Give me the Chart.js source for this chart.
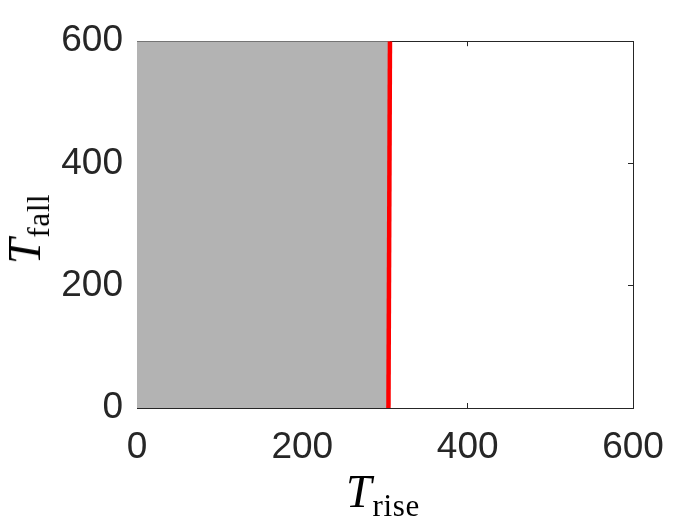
<!DOCTYPE html>
<html>
<head>
<meta charset="utf-8">
<script src="https://cdn.jsdelivr.net/npm/chart.js@4.4.1/dist/chart.umd.min.js"></script>
<style>
  body { margin: 0; background: #fff; }
  #wrap { position: relative; width: 700px; height: 525px; }
  .axis-title {
    position: absolute;
    font-family: "Liberation Serif", "DejaVu Serif", serif;
    font-size: 46px;
    line-height: 1;
    white-space: nowrap;
    color: #000;
  }
  .axis-title i { font-style: italic; }
  .axis-title span { font-size: 31px; position: relative; top: 9px; margin-left: 1px; letter-spacing: 0.6px; }
  #xTitle { left: 346px; top: 469px; }
  #yTitle { left: 25px; top: 229px; transform: translate(-50%, -50%) rotate(-90deg); }
</style>
</head>
<body>
<div id="wrap">
  <canvas id="chart" width="700" height="525"></canvas>
  <div class="axis-title" id="xTitle"><i>T</i><span>rise</span></div>
  <div class="axis-title" id="yTitle"><i>T</i><span>fall</span></div>
</div>
<script>
// boundary line (T_rise as a function of T_fall)
const boundaryRise = [304.2, 306.0];
const boundaryFall = [0, 600];
// axis limits and ticks
const axisMin = 0;
const axisMax = 600;
const xTickValues = [0, 200, 400, 600];
const yTickValues = [0, 200, 400, 600];

const AXIS_COLOR = "#262626";
const TICK_FONT = { family: "'Liberation Sans', Arial, sans-serif", size: 37 };

const boundaryPoints = boundaryRise.map((x, i) => ({ x: x, y: boundaryFall[i] }));

// gray region: everything left of the boundary
const regionPoints = [
  { x: axisMin, y: boundaryFall[0] },
  ...boundaryPoints,
  { x: axisMin, y: boundaryFall[boundaryFall.length - 1] },
];

function setTicks(values) {
  return (scale) => {
    scale.ticks = values.map((v) => ({ value: v }));
  };
}

function boxScale(position, axis, values, showLabels) {
  return {
    type: "linear",
    position: position,
    axis: axis,
    min: axisMin,
    max: axisMax,
    afterBuildTicks: setTicks(values),
    grid: {
      drawOnChartArea: false,
      drawTicks: true,
      tickLength: -5,
      tickColor: AXIS_COLOR,
      tickWidth: 1,
    },
    border: { display: true, color: AXIS_COLOR, width: 1 },
    ticks: {
      display: showLabels,
      color: AXIS_COLOR,
      font: TICK_FONT,
      padding: axis === "x" ? 23 : 19,
      maxRotation: 0,
    },
  };
}

const xScale = boxScale("bottom", "x", xTickValues, true);
xScale.afterFit = (s) => { s.height = 117; };
const yScale = boxScale("left", "y", yTickValues, true);
yScale.afterFit = (s) => { s.width = 137; };
const xTop = boxScale("top", "x", xTickValues, false);
xTop.afterFit = (s) => { s.height = 0; };
const yRight = boxScale("right", "y", yTickValues, false);
yRight.afterFit = (s) => { s.width = 0; };

new Chart(document.getElementById("chart"), {
  type: "scatter",
  data: {
    datasets: [
      {
        label: "boundary",
        data: boundaryPoints,
        showLine: true,
        borderColor: "#ff0000",
        borderWidth: 4.5,
        pointRadius: 0,
        fill: false,
        order: 0,
      },
      {
        label: "region",
        data: regionPoints,
        showLine: true,
        borderWidth: 0,
        borderColor: "rgba(0,0,0,0)",
        backgroundColor: "#b3b3b3",
        pointRadius: 0,
        fill: "shape",
        order: 1,
      },
    ],
  },
  options: {
    responsive: false,
    animation: false,
    layout: { padding: { top: 40, right: 67, left: 0, bottom: 0 } },
    plugins: {
      legend: { display: false },
      tooltip: { enabled: false },
    },
    scales: {
      x: xScale,
      y: yScale,
      x2: xTop,
      y2: yRight,
    },
  },
});
</script>
</body>
</html>
